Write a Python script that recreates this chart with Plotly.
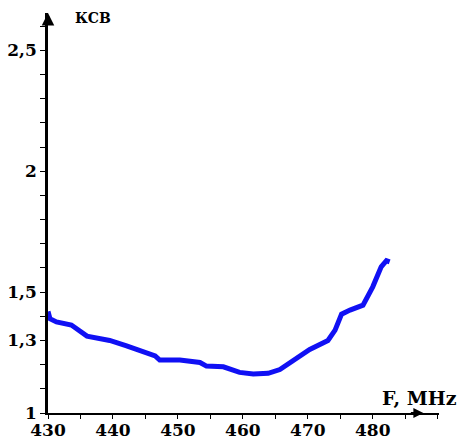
import plotly.graph_objects as go

# VSWR curve
freq = [430.0, 430.3, 431.3, 433.6, 436.0, 439.5, 442.1, 444.2, 446.5, 447.2,
        450.3, 453.4, 454.4, 457.0, 459.5, 461.6, 463.9, 465.7, 467.7, 470.3,
        473.1, 474.2, 475.2, 476.5, 478.5, 480.0, 481.3, 482.1, 482.6]
vswr = [1.42, 1.39, 1.377, 1.364, 1.318, 1.30, 1.278, 1.26, 1.236, 1.219,
        1.219, 1.209, 1.194, 1.191, 1.168, 1.161, 1.164, 1.18, 1.216, 1.263,
        1.30, 1.343, 1.409, 1.426, 1.446, 1.522, 1.605, 1.63, 1.625]

x_ticks = [430, 440, 450, 460, 470, 480]
x_labels = ["430", "440", "450", "460", "470", "480"]
y_ticks = [1.0, 1.3, 1.5, 2.0, 2.5]
y_labels = ["1", "1,3", "1,5", "2", "2,5"]

serif = "DejaVu Serif, serif"
tick_font = dict(family=serif, size=17, color="black", weight="bold")

fig = go.Figure()
fig.add_trace(go.Scatter(x=freq, y=vswr, mode="lines",
                         line=dict(color="#1010f4", width=5),
                         showlegend=False))

fig.update_layout(
    width=461, height=440,
    margin=dict(l=48, r=22, t=13, b=27),
    paper_bgcolor="white", plot_bgcolor="white",
    font=dict(family=serif, color="black"),
    xaxis=dict(range=[430, 490.2], tickvals=x_ticks, ticktext=x_labels,
               automargin=False, showgrid=False, zeroline=False,
               showline=True, linecolor="black", linewidth=1.5,
               ticks="outside", ticklen=4, tickcolor="black",
               ticklabelstandoff=-3,
               minor=dict(dtick=5, tick0=430, ticks="outside", ticklen=4,
                          tickcolor="black", showgrid=False),
               tickfont=tick_font),
    yaxis=dict(range=[1, 2.655], tickvals=y_ticks, ticktext=y_labels,
               automargin=False, showgrid=False, zeroline=False,
               showline=True, linecolor="black", linewidth=2.5,
               ticks="outside", ticklen=5, tickcolor="black",
               minor=dict(dtick=0.1, tick0=1, ticks="outside", ticklen=5,
                          tickcolor="black", showgrid=False),
               tickfont=tick_font),
    annotations=[
        dict(text="<b>КСВ</b>", xref="paper", yref="paper", x=0.064, y=0.9875,
             xanchor="left", yanchor="middle", showarrow=False,
             font=dict(family=serif, size=14, color="black")),
        dict(text="<b>F, MHz</b>", xref="paper", yref="paper", x=0.949, y=0.0375,
             xanchor="center", yanchor="middle", showarrow=False,
             font=dict(family=serif, size=19, color="black")),
        dict(x=0, y=1.0, ax=0, ay=12, xref="paper", yref="paper",
             axref="pixel", ayref="pixel", text="", showarrow=True,
             arrowhead=2, arrowsize=1, arrowwidth=2.5, arrowcolor="black"),
        dict(x=0.96, y=0, ax=-14, ay=0, xref="paper", yref="paper",
             axref="pixel", ayref="pixel", text="", showarrow=True,
             arrowhead=2, arrowsize=1, arrowwidth=2, arrowcolor="black"),
    ],
)

# drop the default page margin so the figure sits at the window's corner
fig.write_html("out.html", config={"displayModeBar": False},
               post_script="document.body.style.margin='0';")
